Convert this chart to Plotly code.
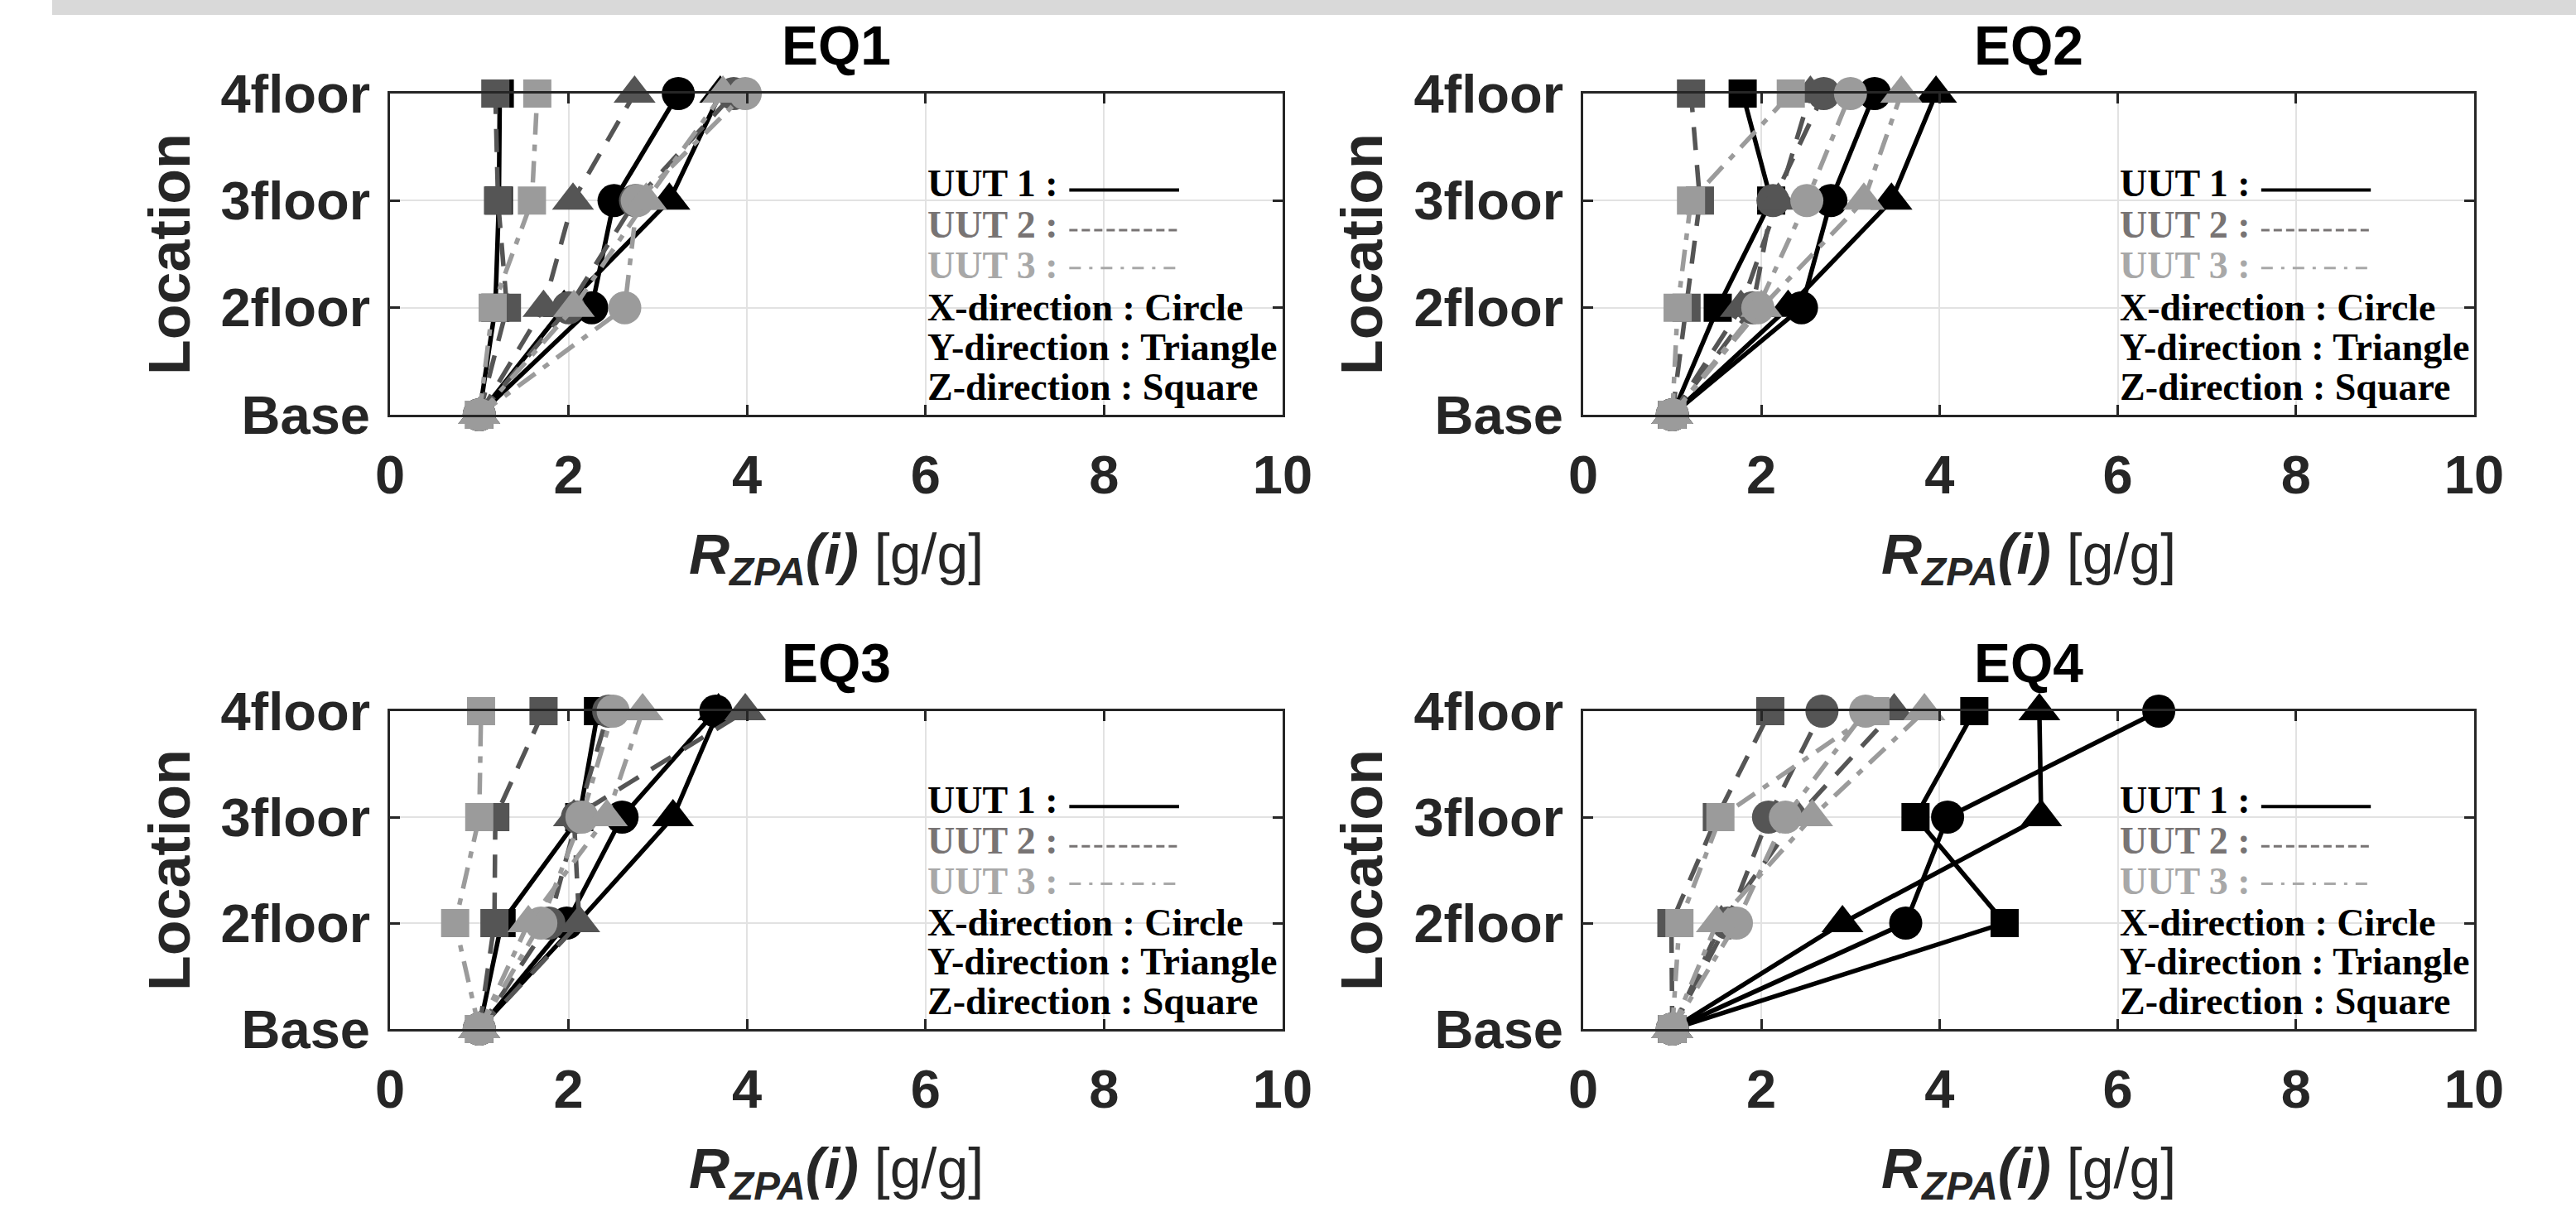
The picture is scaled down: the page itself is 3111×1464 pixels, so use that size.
import plotly.graph_objects as go

# ---------------- data ----------------
floors = ['Base', '2floor', '3floor', '4floor']
x_tickvals = [0, 2, 4, 6, 8, 10]
eq_titles = ['EQ1', 'EQ2', 'EQ3', 'EQ4']
uut_names = ['UUT 1', 'UUT 2', 'UUT 3']
dir_names = ['X-direction', 'Y-direction', 'Z-direction']
dir_shapes = ['Circle', 'Triangle', 'Square']

# values ordered as floors: Base, 2floor, 3floor, 4floor
EQ1_UUT1_X = [1.00, 2.26, 2.51, 3.23]
EQ1_UUT1_Y = [1.00, 1.95, 3.13, 3.70]
EQ1_UUT1_Z = [1.00, 1.18, 1.22, 1.23]
EQ1_UUT2_X = [1.00, 2.00, 2.75, 3.85]
EQ1_UUT2_Y = [1.00, 1.72, 2.05, 2.74]
EQ1_UUT2_Z = [1.00, 1.31, 1.21, 1.18]
EQ1_UUT3_X = [1.00, 2.63, 2.77, 3.98]
EQ1_UUT3_Y = [1.00, 2.06, 2.87, 3.73]
EQ1_UUT3_Z = [1.00, 1.15, 1.59, 1.65]

EQ2_UUT1_X = [1.00, 2.45, 2.78, 3.27]
EQ2_UUT1_Y = [1.00, 2.30, 3.46, 3.96]
EQ2_UUT1_Z = [1.00, 1.51, 2.11, 1.79]
EQ2_UUT2_X = [1.00, 1.90, 2.13, 2.70]
EQ2_UUT2_Y = [1.00, 1.77, 2.19, 2.55]
EQ2_UUT2_Z = [1.00, 1.16, 1.31, 1.21]
EQ2_UUT3_X = [1.00, 1.96, 2.51, 3.00]
EQ2_UUT3_Y = [1.00, 2.00, 3.15, 3.57]
EQ2_UUT3_Z = [1.00, 1.06, 1.21, 2.33]

EQ3_UUT1_X = [1.00, 1.98, 2.60, 3.65]
EQ3_UUT1_Y = [1.00, 2.10, 3.17, 3.68]
EQ3_UUT1_Z = [1.00, 1.25, 2.12, 2.33]
EQ3_UUT2_X = [1.00, 1.78, 2.10, 2.45]
EQ3_UUT2_Y = [1.00, 2.12, 2.06, 3.98]
EQ3_UUT2_Z = [1.00, 1.17, 1.18, 1.72]
EQ3_UUT3_X = [1.00, 1.69, 2.15, 2.50]
EQ3_UUT3_Y = [1.00, 1.55, 2.43, 2.83]
EQ3_UUT3_Z = [1.00, 0.73, 1.00, 1.02]

EQ4_UUT1_X = [1.00, 3.62, 4.09, 6.46]
EQ4_UUT1_Y = [1.00, 2.91, 5.14, 5.12]
EQ4_UUT1_Z = [1.00, 4.73, 3.73, 4.39]
EQ4_UUT2_X = [1.00, 1.62, 2.08, 2.68]
EQ4_UUT2_Y = [1.00, 1.55, 2.40, 3.49]
EQ4_UUT2_Z = [1.00, 0.99, 1.50, 2.10]
EQ4_UUT3_X = [1.00, 1.72, 2.27, 3.17]
EQ4_UUT3_Y = [1.00, 1.50, 2.57, 3.83]
EQ4_UUT3_Z = [1.00, 1.08, 1.54, 3.28]

panels = [
    [[EQ1_UUT1_X, EQ1_UUT1_Y, EQ1_UUT1_Z], [EQ1_UUT2_X, EQ1_UUT2_Y, EQ1_UUT2_Z], [EQ1_UUT3_X, EQ1_UUT3_Y, EQ1_UUT3_Z]],
    [[EQ2_UUT1_X, EQ2_UUT1_Y, EQ2_UUT1_Z], [EQ2_UUT2_X, EQ2_UUT2_Y, EQ2_UUT2_Z], [EQ2_UUT3_X, EQ2_UUT3_Y, EQ2_UUT3_Z]],
    [[EQ3_UUT1_X, EQ3_UUT1_Y, EQ3_UUT1_Z], [EQ3_UUT2_X, EQ3_UUT2_Y, EQ3_UUT2_Z], [EQ3_UUT3_X, EQ3_UUT3_Y, EQ3_UUT3_Z]],
    [[EQ4_UUT1_X, EQ4_UUT1_Y, EQ4_UUT1_Z], [EQ4_UUT2_X, EQ4_UUT2_Y, EQ4_UUT2_Z], [EQ4_UUT3_X, EQ4_UUT3_Y, EQ4_UUT3_Z]],
]

# ---------------- style ----------------
W, H = 3111, 1464
uut_colors = ['#000000', '#555555', '#9b9b9b']
uut_text_colors = ['#000000', '#787474', '#a8a8a8']
uut_dash = ['solid', '28px,18px', '26px,12px,8px,12px']
legend_dash = ['solid', '10px,5px', '14px,10px,4px,10px']
dir_symbols = ['circle', 'triangle-up', 'square']
dir_sizes = [40, 44, 34]
axis_color = '#262626'
grid_color = '#e2e2e2'
sans = 'Liberation Sans, Arial, sans-serif'
serif = 'Liberation Serif, Times New Roman, serif'

# pixel frames of the four axes (left, right, top, bottom)
frames = [(471, 1549, 113, 501), (1912, 2988, 113, 501),
          (471, 1549, 859, 1243), (1912, 2988, 859, 1243)]

fig = go.Figure()
layout = dict(width=W, height=H, autosize=False,
              margin=dict(l=0, r=0, t=0, b=0, pad=0, autoexpand=False),
              paper_bgcolor='white', plot_bgcolor='white', showlegend=False)
annotations = []
shapes = []

# top gray band
shapes.append(dict(type='rect', xref='paper', yref='paper', x0=63 / W, x1=1,
                   y0=1 - 18 / H, y1=1, fillcolor='#d9d9d9', line=dict(width=0), layer='below'))

for k, (l, r, t, b) in enumerate(frames):
    n = '' if k == 0 else str(k + 1)
    xa, ya = 'x' + n, 'y' + n
    layout['xaxis' + n] = dict(
        domain=[l / W, r / W], anchor=ya, range=[0, 10], tickvals=x_tickvals,
        automargin=False,
        showgrid=True, gridcolor=grid_color, gridwidth=2, zeroline=False,
        showline=True, linecolor=axis_color, linewidth=3, mirror='ticks',
        ticks='inside', ticklen=12, tickwidth=3, tickcolor=axis_color,
        ticklabelstandoff=14,
        tickfont=dict(family=sans, size=65, color=axis_color, weight='bold'))
    layout['yaxis' + n] = dict(
        domain=[(H - b) / H, (H - t) / H], anchor=xa, type='category',
        categoryorder='array', categoryarray=floors, range=[0, 3],
        automargin=False,
        showgrid=True, gridcolor=grid_color, gridwidth=2, zeroline=False,
        showline=True, linecolor=axis_color, linewidth=3, mirror='ticks',
        ticks='inside', ticklen=12, tickwidth=3, tickcolor=axis_color,
        ticklabelstandoff=8,
        tickfont=dict(family=sans, size=65, color=axis_color, weight='bold'))

    for u in range(3):
        for d in range(3):
            fig.add_trace(go.Scatter(
                x=panels[k][u][d], y=floors, xaxis=xa, yaxis=ya,
                mode='lines+markers', cliponaxis=False,
                name=f'{eq_titles[k]} {uut_names[u]} {dir_names[d]}',
                line=dict(color=uut_colors[u], width=5.5, dash=uut_dash[u]),
                marker=dict(symbol=dir_symbols[d], size=dir_sizes[d],
                            color=uut_colors[u], line=dict(width=0))))

    xd, yd = xa + ' domain', ya + ' domain'
    # panel title
    annotations.append(dict(text=f'<b>{eq_titles[k]}</b>', xref=xd, yref=yd, x=0.5, y=1,
                            yshift=58, xanchor='center', yanchor='middle', showarrow=False,
                            font=dict(family=sans, size=66, color='#000000')))
    # x title
    annotations.append(dict(text='<b><i>R</i></b><sub><b><i>ZPA</i></b></sub><b><i>(i)</i></b> [g/g]',
                            xref=xd, yref=yd, x=0.5, y=0, yshift=-128, xanchor='center',
                            yanchor='top', showarrow=False,
                            font=dict(family=sans, size=68, color=axis_color)))
    # y title
    annotations.append(dict(text='<b>Location</b>', xref=xd, yref=yd, x=0, y=0.5,
                            xshift=-(l - 205) if k in (0, 2) else -(l - 1645),
                            xanchor='center', yanchor='middle', textangle=-90, showarrow=False,
                            font=dict(family=sans, size=70, color=axis_color)))
    # custom legend text
    rows = [f'{uut_names[0]} :', f'{uut_names[1]} :', f'{uut_names[2]} :',
            f'{dir_names[0]} : {dir_shapes[0]}', f'{dir_names[1]} : {dir_shapes[1]}',
            f'{dir_names[2]} : {dir_shapes[2]}']
    row_y = [0.720, 0.592, 0.464, 0.335, 0.211, 0.087]
    row_col = uut_text_colors + ['#000000'] * 3
    for txt, yy, col in zip(rows, row_y, row_col):
        annotations.append(dict(text=f'<b>{txt}</b>', xref=xd, yref=yd, x=0.600, y=yy,
                                xanchor='left', yanchor='middle', showarrow=False,
                                font=dict(family=serif, size=46, color=col)))
    for u, yy in enumerate([0.700, 0.575, 0.457]):
        shapes.append(dict(type='line', xref=xd, yref=yd, x0=0.761, x1=0.884, y0=yy, y1=yy,
                           line=dict(color=uut_text_colors[u], width=4 if u == 0 else 3,
                                     dash=legend_dash[u])))

layout['annotations'] = annotations
layout['shapes'] = shapes
fig.update_layout(**layout)

fig.write_html("out.html", config={'displayModeBar': False},
               post_script="document.body.style.margin='0';")
